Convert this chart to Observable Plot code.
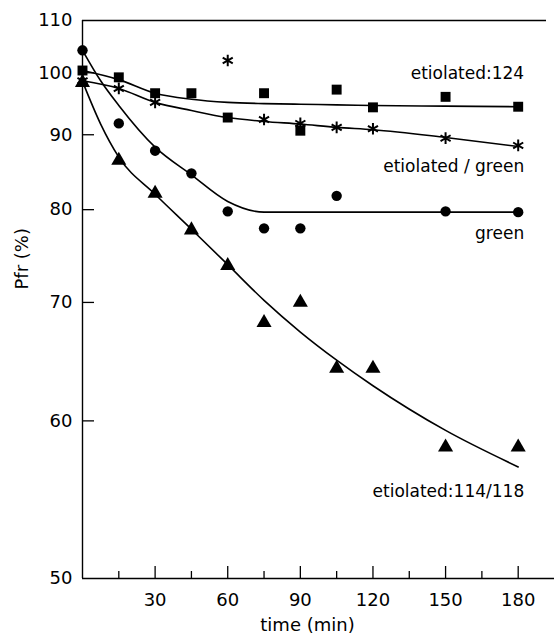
<!DOCTYPE html>
<html><head><meta charset="utf-8">
<script src="https://cdn.jsdelivr.net/npm/d3@7"></script>
<script src="https://cdn.jsdelivr.net/npm/@observablehq/plot@0.6"></script>
<style>body{margin:0;background:#fff} svg{display:block}</style>
</head><body><div id="chart"></div>
<script>
// ---- data ----
const sqTimes = [0, 15, 30, 45, 60, 75, 90, 105, 120, 150, 180];
const sqValues = [100.4, 99.2, 96.5, 96.5, 92.6, 96.5, 90.6, 97.1, 94.2, 95.9, 94.3];
const starTimes = [0, 15, 30, 60, 75, 90, 105, 120, 150, 180];
const starValues = [98.6, 97.3, 95.0, 102.2, 92.3, 91.7, 91.1, 90.9, 89.5, 88.45];
const circTimes = [0, 15, 30, 45, 60, 75, 90, 105, 150, 180];
const circValues = [104.1, 91.7, 87.7, 84.6, 79.8, 77.8, 77.8, 81.7, 79.8, 79.7];
const triTimes = [0, 15, 30, 45, 60, 75, 90, 105, 120, 150, 180];
const triValues = [98.3, 86.35, 82.0, 77.6, 73.7, 68.1, 70.0, 64.1, 64.1, 58.1, 58.1];
// fitted curves drawn in the figure
const fitTimes = [0, 15, 30, 45, 60, 75, 90, 105, 120, 150, 180];
const fitSq = [100.4, 98.8, 96.5, 95.5, 95.0, 94.8, 94.7, 94.6, 94.5, 94.4, 94.3];
const fitStar = [98.6, 97.3, 95.0, 93.7, 92.6, 92.0, 91.6, 91.1, 90.75, 89.6, 88.3];
const fitCircTimes = [0, 7.5, 15, 30, 45, 60, 75, 90, 105, 120, 150, 180];
const fitCirc = [104.1, 98.6, 94.5, 88.2, 84.4, 81.0, 79.7, 79.7, 79.7, 79.7, 79.7, 79.7];
const fitTriTimes = [0, 7.5, 15, 30, 45, 60, 75, 90, 105, 120, 150, 180];
const fitTri = [98.5, 91.6, 86.8, 81.9, 77.7, 73.8, 70.2, 67.25, 64.8, 62.7, 59.3, 56.75];
const seriesLabels = ["etiolated:124", "etiolated / green", "green", "etiolated:114/118"];
const xTickLabels = [30, 60, 90, 120, 150, 180];
const xMinorTicks = [15, 45, 75, 105, 135, 165];
const yTickLabels = [50, 60, 70, 80, 90, 100, 110];
const yInnerTicks = [60, 70, 80, 90, 100];
const xTitle = "time (min)";
const yTitle = "Pfr (%)";

const pts = (ts, vs) => ts.map((t, i) => ({t, v: vs[i]}));
const last = (ts, vs) => [{t: ts[ts.length - 1], v: vs[vs.length - 1]}];

const plotH = 640 - 20 - 62, plotW = 554 - 82;
const font = "DejaVu Sans";

const chart = Plot.plot({
  width: 554, height: 640,
  marginTop: 20, marginBottom: 62, marginLeft: 82, marginRight: 0,
  style: {fontFamily: font, fontSize: "18px", color: "black", background: "white", overflow: "visible"},
  x: {domain: [0, 195], ticks: xTickLabels, tickSize: 0, tickPadding: 15, label: null},
  y: {type: "pow", exponent: -0.7, domain: [50, 110], ticks: yTickLabels, tickSize: 0, tickPadding: 10, label: null},
  marks: [
    // frame
    Plot.ruleY([50], {stroke: "black", strokeWidth: 1.4}),
    Plot.ruleY([110], {stroke: "black", strokeWidth: 1.4, insetRight: 8}),
    Plot.ruleX([0], {stroke: "black", strokeWidth: 1.4}),
    // inward ticks
    Plot.ruleX(xTickLabels, {x: d => d, insetTop: plotH - 12, stroke: "black", strokeWidth: 1.3}),
    Plot.ruleX(xMinorTicks, {x: d => d, insetTop: plotH - 7, stroke: "black", strokeWidth: 1.3}),
    Plot.ruleY(yInnerTicks, {y: d => d, insetRight: plotW - 12, stroke: "black", strokeWidth: 1.3}),
    // fitted curves
    Plot.line(pts(fitTimes, fitSq), {x: "t", y: "v", curve: "monotone-x", stroke: "black", strokeWidth: 1.6}),
    Plot.line(pts(fitTimes, fitStar), {x: "t", y: "v", curve: "monotone-x", stroke: "black", strokeWidth: 1.6}),
    Plot.line(pts(fitCircTimes, fitCirc), {x: "t", y: "v", curve: "monotone-x", stroke: "black", strokeWidth: 1.6}),
    Plot.line(pts(fitTriTimes, fitTri), {x: "t", y: "v", curve: "monotone-x", stroke: "black", strokeWidth: 1.6}),
    // data points
    Plot.dot(pts(sqTimes, sqValues), {x: "t", y: "v", symbol: "square", r: 5.6, fill: "black", stroke: "none"}),
    Plot.dot(pts(circTimes, circValues), {x: "t", y: "v", symbol: "circle", r: 5.2, fill: "black", stroke: "none"}),
    Plot.dot(pts(triTimes, triValues), {x: "t", y: "v", symbol: "triangle", r: 5.6, fill: "black", stroke: "none"}),
    Plot.dot(pts(starTimes, starValues), {x: "t", y: "v", symbol: "asterisk", r: 5.5, stroke: "black", strokeWidth: 2, fill: "none"}),
    // series labels
    Plot.text(last(fitTimes, fitSq), {x: "t", y: "v", text: () => seriesLabels[0], textAnchor: "end", dx: 6, dy: -33, fontSize: 17, fill: "black"}),
    Plot.text(last(fitTimes, fitStar), {x: "t", y: "v", text: () => seriesLabels[1], textAnchor: "end", dx: 6, dy: 20, fontSize: 17, fill: "black"}),
    Plot.text(last(fitCircTimes, fitCirc), {x: "t", y: "v", text: () => seriesLabels[2], textAnchor: "end", dx: 6, dy: 21, fontSize: 17, fill: "black"}),
    Plot.text(last(fitTriTimes, fitTri), {x: "t", y: "v", text: () => seriesLabels[3], textAnchor: "end", dx: 6, dy: 25, fontSize: 17, fill: "black"}),
    // axis titles
    Plot.text([xTitle], {frameAnchor: "bottom", text: d => d, dx: -11, dy: 52, fontSize: 18, fill: "black"}),
    Plot.text([yTitle], {frameAnchor: "left", text: d => d, rotate: -90, dx: -60, dy: -10, fontSize: 18, fill: "black"})
  ]
});
document.getElementById("chart").appendChild(chart);
</script>
</body></html>
